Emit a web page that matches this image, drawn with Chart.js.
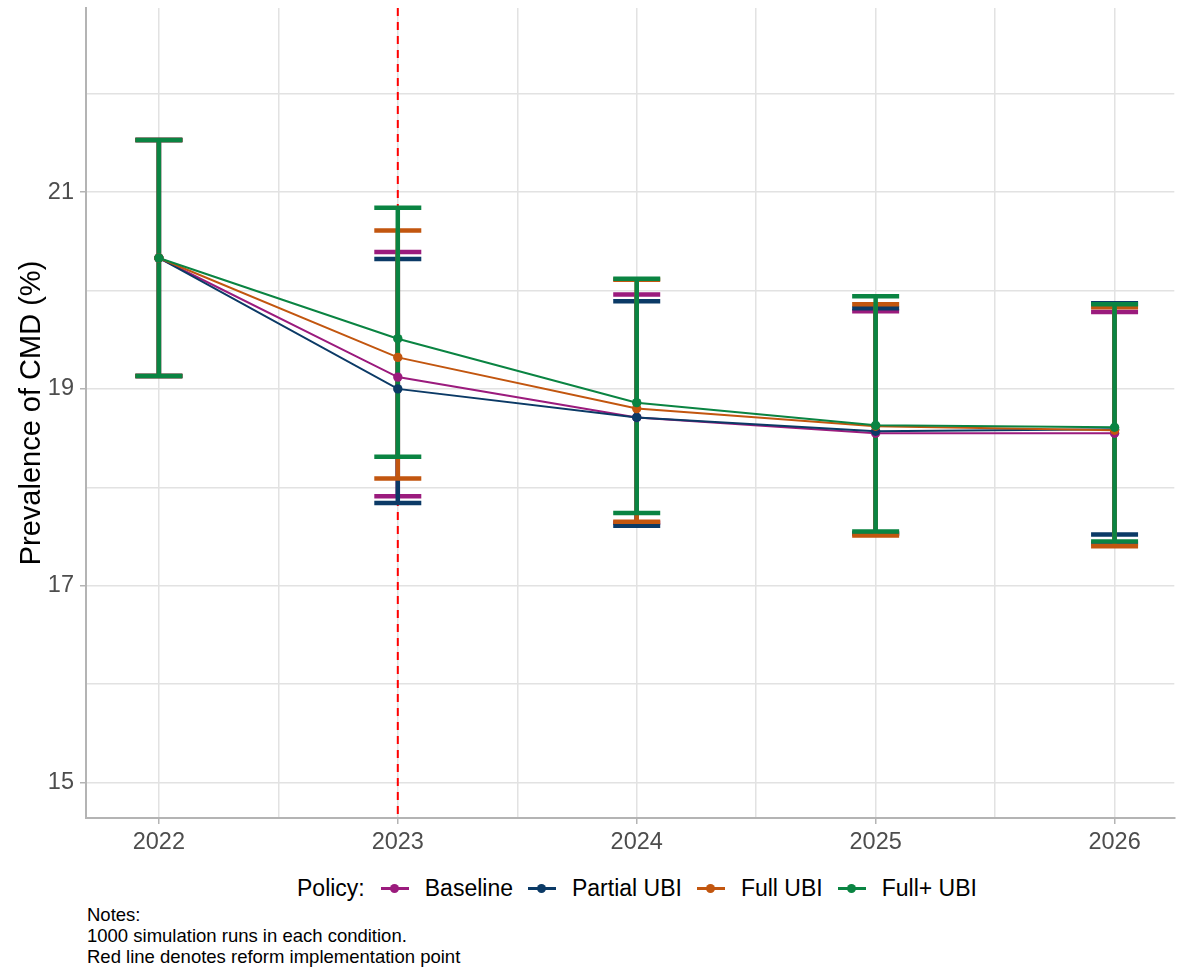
<!DOCTYPE html>
<html lang="en">
<head>
    <meta charset="UTF-8">
    <title>Prevalence of CMD</title>
    <script src="https://cdn.jsdelivr.net/npm/chart.js"></script>
</head>
<style>
    body{
        margin: 0;
        background: #ffffff;
        font-family: "Liberation Sans", Arial, sans-serif;
    }
    .chartBox{
        position: absolute;
        left: 0;
        top: 0;
        width: 1179px;
        height: 870px;
    }
    .legend{
        position: absolute;
        left: 297px;
        top: 873px;
        height: 30px;
        display: flex;
        align-items: center;
        font-size: 23px;
        color: #000000;
        white-space: nowrap;
    }
    .legend .key{
        position: relative;
        display: inline-block;
        width: 28px;
        height: 16px;
        margin: 0 16px 0 8px;
    }
    .legend .key .ln{
        position: absolute;
        left: 0;
        top: 6.5px;
        width: 28px;
        height: 3px;
    }
    .legend .key .dot{
        position: absolute;
        left: 9px;
        top: 3.5px;
        width: 9px;
        height: 9px;
        border-radius: 50%;
    }
    .legend .item{
        margin-right: 7px;
    }
    .notes{
        position: absolute;
        left: 87px;
        top: 904px;
        font-size: 18.5px;
        line-height: 21px;
        color: #000000;
    }
</style>
<body>
<div class="chartBox">
    <canvas id="cmdChart"></canvas>
</div>
<div class="legend" id="legend"></div>
<div class="notes">
    Notes:<br>
    1000 simulation runs in each condition.<br>
    Red line denotes reform implementation point
</div>
<script>
    const years = [2022, 2023, 2024, 2025, 2026];
    const policyNames = ['Baseline', 'Partial UBI', 'Full UBI', 'Full+ UBI'];
    const policyColors = ['#9b1b7d', '#0b3a66', '#c2560f', '#0a8442'];

    // mean prevalence (%) and interval bounds per policy
    const baseline = [20.33, 19.12, 18.71, 18.55, 18.55];
    const baselineLo = [19.13, 17.91, 17.64, 17.53, 17.43];
    const baselineHi = [21.53, 20.39, 19.96, 19.79, 19.78];
    const partial = [20.33, 19.00, 18.71, 18.57, 18.59];
    const partialLo = [19.13, 17.84, 17.61, 17.53, 17.52];
    const partialHi = [21.53, 20.32, 19.89, 19.82, 19.87];
    const full = [20.33, 19.32, 18.80, 18.62, 18.58];
    const fullLo = [19.13, 18.09, 17.65, 17.51, 17.40];
    const fullHi = [21.53, 20.61, 20.11, 19.86, 19.83];
    const fullPlus = [20.33, 19.51, 18.86, 18.63, 18.61];
    const fullPlusLo = [19.13, 18.31, 17.74, 17.55, 17.45];
    const fullPlusHi = [21.53, 20.84, 20.12, 19.94, 19.86];

    const xTicks = [2022, 2022.5, 2023, 2023.5, 2024, 2024.5, 2025, 2025.5, 2026];
    const yTicks = [15, 16, 17, 18, 19, 20, 21, 22];
    const reformYear = 2023;

    const means = [baseline, partial, full, fullPlus];
    const lows = [baselineLo, partialLo, fullLo, fullPlusLo];
    const highs = [baselineHi, partialHi, fullHi, fullPlusHi];

    const tickGray = '#4d4d4d';
    const axisGray = '#b4b4b4';
    const gridGray = '#e2e2e2';

    // red dashed reference line + error bars, under the lines/points
    const errorBars = {
        id: 'errorBars',
        beforeDatasetsDraw(chart) {
            const ctx = chart.ctx;
            const xs = chart.scales.x, ys = chart.scales.y;
            const area = chart.chartArea;
            ctx.save();
            ctx.strokeStyle = '#ff0000';
            ctx.lineWidth = 2;
            ctx.setLineDash([8, 6]);
            ctx.beginPath();
            let rx = xs.getPixelForValue(reformYear);
            ctx.moveTo(rx, area.top);
            ctx.lineTo(rx, area.bottom);
            ctx.stroke();
            ctx.setLineDash([]);
            ctx.lineWidth = 4.5;
            ctx.lineCap = 'butt';
            for (let d = 0; d < means.length; d++) {
                ctx.strokeStyle = policyColors[d];
                for (let i = 0; i < years.length; i++) {
                    let x = xs.getPixelForValue(years[i]);
                    let lo = ys.getPixelForValue(lows[d][i]);
                    let hi = ys.getPixelForValue(highs[d][i]);
                    ctx.beginPath();
                    ctx.moveTo(x, lo);
                    ctx.lineTo(x, hi);
                    ctx.moveTo(x - 23.5, lo);
                    ctx.lineTo(x + 23.5, lo);
                    ctx.moveTo(x - 23.5, hi);
                    ctx.lineTo(x + 23.5, hi);
                    ctx.stroke();
                }
            }
            ctx.restore();
        }
    };

    let datasets = [];
    for (let d = 0; d < means.length; d++) {
        datasets.push({
            label: policyNames[d],
            data: years.map((y, i) => ({x: y, y: means[d][i]})),
            borderColor: policyColors[d],
            backgroundColor: policyColors[d],
            borderWidth: 2,
            pointRadius: 4.7,
            pointBorderWidth: 0,
            pointHoverRadius: 4.7,
            tension: 0,
            order: means.length - d
        });
    }

    let chart = new Chart(document.getElementById('cmdChart'), {
        type: 'line',
        data: {datasets: datasets},
        plugins: [errorBars],
        options: {
            responsive: true,
            maintainAspectRatio: false,
            animation: false,
            layout: {padding: {top: 8, right: 0, left: 0, bottom: 0}},
            plugins: {
                legend: {display: false},
                tooltip: {enabled: false}
            },
            scales: {
                x: {
                    type: 'linear',
                    min: 2021.695,
                    max: 2026.25,
                    afterBuildTicks: (s) => { s.ticks = xTicks.map(v => ({value: v})); },
                    afterFit: (s) => { s.height = 52; s.paddingLeft = 0; s.paddingRight = 0; },
                    border: {display: true, color: axisGray, width: 2},
                    grid: {
                        color: gridGray,
                        lineWidth: 1.5,
                        drawTicks: true,
                        tickLength: 6,
                        tickColor: (c) => Number.isInteger(c.tick.value) ? axisGray : 'rgba(0,0,0,0)'
                    },
                    ticks: {
                        autoSkip: false,
                        maxRotation: 0,
                        padding: 4,
                        color: tickGray,
                        font: {family: 'Liberation Sans', size: 23.5},
                        callback: (v) => Number.isInteger(v) ? String(v) : ''
                    }
                },
                y: {
                    min: 14.64,
                    max: 22.87,
                    afterBuildTicks: (s) => { s.ticks = yTicks.map(v => ({value: v})); },
                    afterFit: (s) => { s.width = 86; s.paddingTop = 0; s.paddingBottom = 0; },
                    border: {display: true, color: axisGray, width: 2},
                    grid: {
                        color: gridGray,
                        lineWidth: 1.5,
                        drawTicks: true,
                        tickLength: 6,
                        tickColor: (c) => c.tick.value % 2 === 1 ? axisGray : 'rgba(0,0,0,0)'
                    },
                    ticks: {
                        padding: 6,
                        color: tickGray,
                        font: {family: 'Liberation Sans', size: 23.5},
                        callback: (v) => v % 2 === 1 ? String(v) : ''
                    },
                    title: {
                        display: true,
                        text: 'Prevalence of CMD (%)',
                        color: '#000000',
                        padding: {top: 15, bottom: 0},
                        font: {family: 'Liberation Sans', size: 29}
                    }
                }
            }
        }
    });

    // legend row: "Policy:" then a line-and-dot key per series
    let legend = document.getElementById('legend');
    let head = document.createElement('span');
    head.textContent = 'Policy:';
    head.style.marginRight = '8px';
    legend.appendChild(head);
    for (let d = 0; d < policyNames.length; d++) {
        let key = document.createElement('span');
        key.className = 'key';
        key.innerHTML = '<span class="ln" style="background:' + policyColors[d] + '"></span>' +
            '<span class="dot" style="background:' + policyColors[d] + '"></span>';
        let txt = document.createElement('span');
        txt.className = 'item';
        txt.textContent = policyNames[d];
        legend.appendChild(key);
        legend.appendChild(txt);
    }
</script>
</body>
</html>
